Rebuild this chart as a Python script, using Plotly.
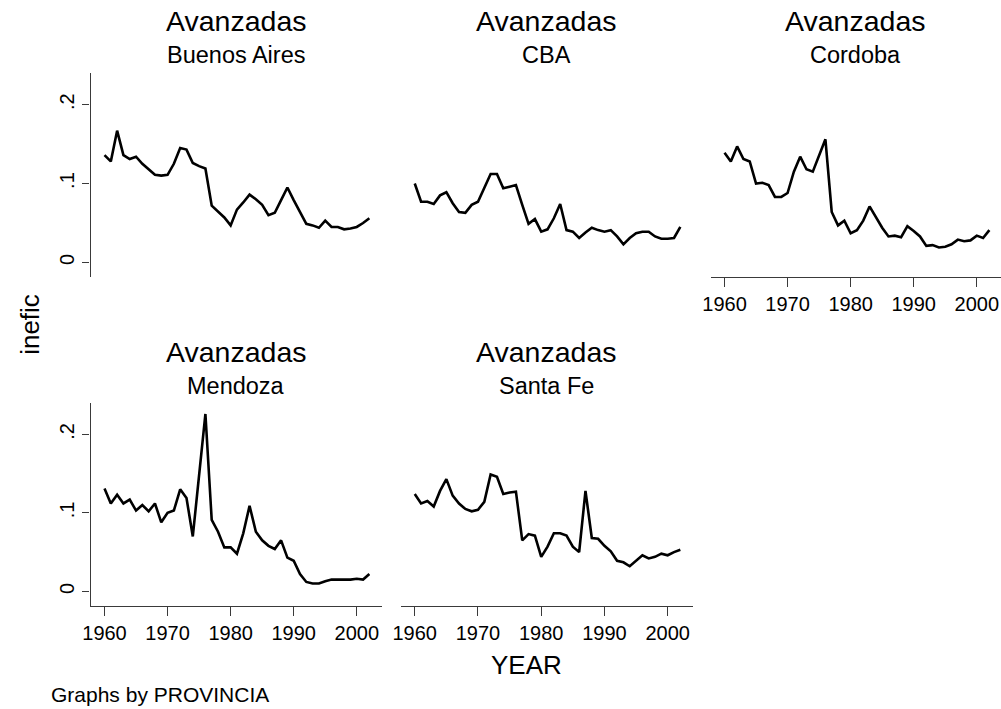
import plotly.graph_objects as go

years = list(range(1960, 2003))

buenos_aires = [0.136, 0.128, 0.167, 0.136, 0.131, 0.134, 0.125, 0.118, 0.111, 0.110,
                0.111, 0.125, 0.145, 0.143, 0.126, 0.122, 0.119, 0.072, 0.064, 0.057,
                0.047, 0.067, 0.076, 0.086, 0.080, 0.073, 0.060, 0.063, 0.079, 0.095,
                0.079, 0.064, 0.049, 0.047, 0.044, 0.053, 0.045, 0.045, 0.042, 0.043,
                0.045, 0.050, 0.056]
cba = [0.100, 0.077, 0.077, 0.074, 0.085, 0.089, 0.075, 0.064, 0.063, 0.073,
       0.077, 0.094, 0.112, 0.112, 0.094, 0.096, 0.098, 0.073, 0.049, 0.055,
       0.039, 0.042, 0.056, 0.074, 0.041, 0.039, 0.031, 0.038, 0.044, 0.041,
       0.039, 0.041, 0.033, 0.023, 0.031, 0.037, 0.039, 0.039, 0.033, 0.030,
       0.030, 0.031, 0.045]
cordoba = [0.139, 0.128, 0.147, 0.131, 0.128, 0.100, 0.101, 0.098, 0.083, 0.083,
           0.088, 0.115, 0.134, 0.118, 0.115, 0.135, 0.156, 0.064, 0.047, 0.053,
           0.037, 0.041, 0.053, 0.071, 0.058, 0.044, 0.033, 0.034, 0.032, 0.046,
           0.040, 0.033, 0.021, 0.022, 0.019, 0.020, 0.023, 0.029, 0.027, 0.028,
           0.034, 0.031, 0.041]
mendoza = [0.131, 0.112, 0.123, 0.112, 0.117, 0.103, 0.110, 0.102, 0.112, 0.088,
           0.100, 0.103, 0.130, 0.119, 0.070, 0.147, 0.226, 0.091, 0.076, 0.056,
           0.056, 0.048, 0.074, 0.109, 0.076, 0.065, 0.058, 0.054, 0.065, 0.043,
           0.039, 0.022, 0.012, 0.010, 0.010, 0.013, 0.015, 0.015, 0.015, 0.015,
           0.016, 0.015, 0.022]
santa_fe = [0.124, 0.112, 0.115, 0.108, 0.128, 0.143, 0.122, 0.112, 0.105, 0.102,
            0.104, 0.114, 0.149, 0.146, 0.124, 0.126, 0.127, 0.065, 0.073, 0.071,
            0.044, 0.057, 0.074, 0.074, 0.071, 0.057, 0.050, 0.128, 0.068, 0.067,
            0.058, 0.051, 0.039, 0.037, 0.032, 0.039, 0.046, 0.042, 0.044, 0.048,
            0.046, 0.050, 0.053]

group_label = "Avanzadas"
province_names = ["Buenos Aires", "CBA", "Cordoba", "Mendoza", "Santa Fe"]
series = [buenos_aires, cba, cordoba, mendoza, santa_fe]
x_ticks = [1960, 1970, 1980, 1990, 2000]
y_ticks = [0, 0.1, 0.2]
y_tick_text = ["0", ".1", ".2"]

W, H = 1001, 709
FONT = "Liberation Sans, Arial, Helvetica, sans-serif"
AXIS_COLOR = "#3a3a3a"
TITLE_SIZE = 28.5
SUB_SIZE = 23.5

col_px = [(83.3, 377.0), (396.0, 690.5), (708.3, 1001.0)]
row_px = [(73.0, 276.7), (403.0, 605.5)]
x_range_full = [1957.8, 2004.0]

def px2x(p):
    return p / W

def px2y(p):
    return 1 - p / H

positions = [(0, 0), (0, 1), (0, 2), (1, 0), (1, 1)]
show_x = [False, False, True, True, True]

fig = go.Figure()
layout = dict(
    width=W, height=H,
    margin=dict(l=0, r=0, t=0, b=0),
    paper_bgcolor="white", plot_bgcolor="white",
    showlegend=False,
    font=dict(family=FONT, color="black"),
)
annotations = []
px_per_year = (col_px[0][1] - col_px[0][0]) / (x_range_full[1] - x_range_full[0])

for i, (name, vals) in enumerate(zip(province_names, series)):
    r, c = positions[i]
    ax = "" if i == 0 else str(i + 1)
    fig.add_trace(go.Scatter(
        x=years, y=vals, mode="lines",
        line=dict(color="black", width=2.6),
        xaxis="x" + ax, yaxis="y" + ax,
        hoverinfo="x+y",
    ))
    x0, x1 = col_px[c]
    y0, y1 = row_px[r]
    if c == 2:
        xr = [x_range_full[0], x_range_full[0] + (x1 - x0) / px_per_year]
    else:
        xr = x_range_full
    layout["xaxis" + ax] = dict(
        domain=[px2x(x0), px2x(x1)], range=xr, anchor="y" + ax,
        showgrid=False, zeroline=False,
        showline=show_x[i], linecolor=AXIS_COLOR, linewidth=1.4,
        ticks="outside" if show_x[i] else "", ticklen=9, tickwidth=1.4, tickcolor=AXIS_COLOR,
        tickvals=x_ticks, showticklabels=show_x[i],
        tickfont=dict(size=20, family=FONT, color="black"),
    )
    show_y = (c == 0)
    layout["yaxis" + ax] = dict(
        domain=[px2y(y1), px2y(y0)], range=[-0.018, 0.240], anchor="x" + ax,
        showgrid=False, zeroline=False,
        showline=show_y, linecolor=AXIS_COLOR, linewidth=1.4,
        ticks="outside" if show_y else "", ticklen=7, tickwidth=1.4, tickcolor=AXIS_COLOR,
        tickvals=y_ticks, ticktext=y_tick_text, showticklabels=show_y,
        tickangle=-90,
        tickfont=dict(size=20, family=FONT, color="black"),
    )
    cx = (x0 + x1) / 2
    top_base = 31.7 if r == 0 else 362.7
    sub_base = 63.3 if r == 0 else 394.3
    annotations.append(dict(
        text=group_label, x=px2x(cx), y=px2y(top_base - 0.36 * TITLE_SIZE),
        xref="paper", yref="paper", xanchor="center", yanchor="middle",
        showarrow=False, font=dict(size=TITLE_SIZE, family=FONT, color="black"),
    ))
    annotations.append(dict(
        text=name, x=px2x(cx), y=px2y(sub_base - 0.36 * SUB_SIZE),
        xref="paper", yref="paper", xanchor="center", yanchor="middle",
        showarrow=False, font=dict(size=SUB_SIZE, family=FONT, color="black"),
    ))

annotations.append(dict(
    text="inefic", x=px2x(22), y=px2y(324), xref="paper", yref="paper",
    xanchor="center", yanchor="middle", textangle=-90, showarrow=False,
    font=dict(size=26, family=FONT, color="black"),
))
annotations.append(dict(
    text="YEAR", x=px2x(523), y=px2y(674 - 0.36 * 26), xref="paper", yref="paper",
    xanchor="center", yanchor="middle", showarrow=False,
    font=dict(size=26, family=FONT, color="black"),
))
annotations.append(dict(
    text="Graphs by PROVINCIA", x=px2x(41), y=px2y(702 - 0.36 * 21), xref="paper", yref="paper",
    xanchor="left", yanchor="middle", showarrow=False,
    font=dict(size=21, family=FONT, color="black"),
))
layout["annotations"] = annotations
fig.update_layout(**layout)
fig.write_html(
    "out.html",
    config={"displayModeBar": False},
    post_script="document.body.style.margin='0';document.body.style.padding='0';document.body.style.overflow='hidden';",
)
